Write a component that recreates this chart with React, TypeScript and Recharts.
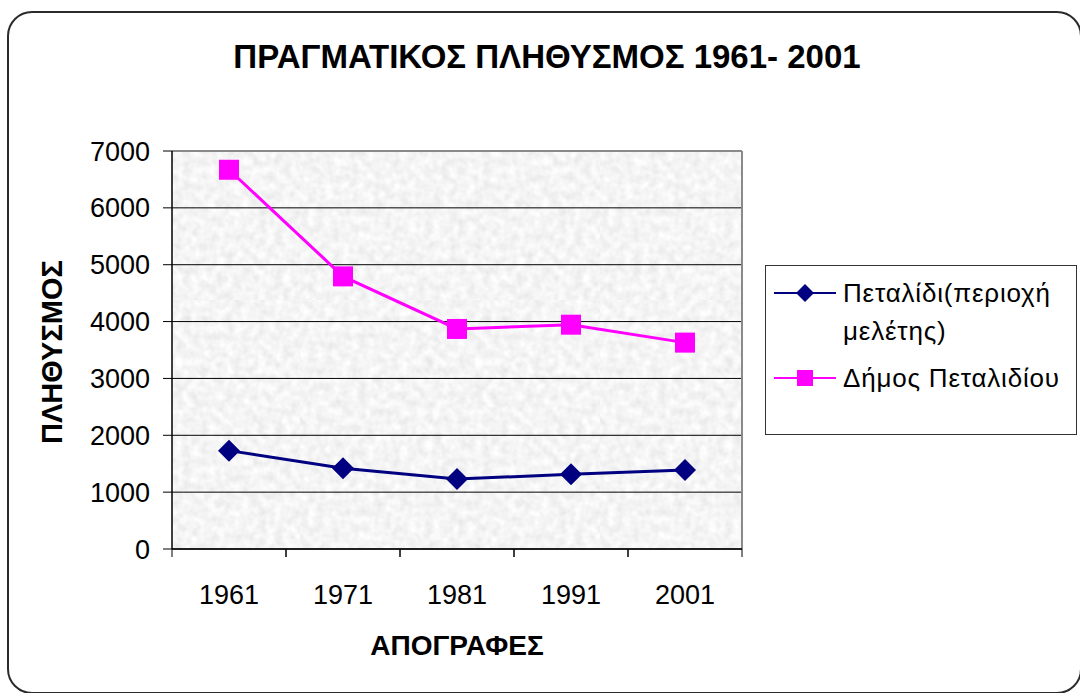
import React from 'react';
import { LineChart, Line, XAxis, YAxis, CartesianGrid, Legend } from 'recharts';

const years = ['1961', '1971', '1981', '1991', '2001'];
const petalidiValues = [1730, 1420, 1230, 1315, 1390];
const dimosValues = [6670, 4795, 3870, 3945, 3630];
const yTicks = [0, 1000, 2000, 3000, 4000, 5000, 6000, 7000];

const seriesKeys = ['petalidi', 'dimos'];
const seriesNames = {
  petalidi: 'Πεταλίδι(περιοχή μελέτης)',
  dimos: 'Δήμος Πεταλιδίου'
};

const BLUE = '#000080';
const PINK = '#FF00FF';
const FONT = '"Liberation Sans", Arial, sans-serif';

const chartData = years.map((year, i) => ({
  year,
  petalidi: petalidiValues[i],
  dimos: dimosValues[i]
}));

const X_TICK_SIZE = 8;
const X_TICK_MARGIN = 28;

const XTick = (props: any) => {
  const { x, y, payload } = props;
  const axisY = y - X_TICK_SIZE - X_TICK_MARGIN;
  const half = payload.offset || 0;
  return (
    <g>
      <line x1={x - half} x2={x - half} y1={axisY} y2={axisY + X_TICK_SIZE} stroke="#000" />
      <line x1={x + half} x2={x + half} y1={axisY} y2={axisY + X_TICK_SIZE} stroke="#000" />
      <text x={x} y={y} dy="0.71em" textAnchor="middle" fontSize={27} fontFamily={FONT} fill="#000">
        {payload.value}
      </text>
    </g>
  );
};

const Diamond = (props: any) => {
  const { cx, cy, r = 11, fill } = props;
  if (cx == null || cy == null) return null;
  return <path d={`M${cx},${cy - r} L${cx + r},${cy} L${cx},${cy + r} L${cx - r},${cy} Z`} fill={fill} />;
};

const Square = (props: any) => {
  const { cx, cy, r = 10, fill } = props;
  if (cx == null || cy == null) return null;
  return <rect x={cx - r} y={cy - r} width={r * 2} height={r * 2} fill={fill} />;
};

const renderLegend = (props: any) => {
  const items = [...(props.payload || [])].sort(
    (a: any, b: any) => seriesKeys.indexOf(a.dataKey) - seriesKeys.indexOf(b.dataKey)
  );
  return (
    <div
      style={{
        width: 312,
        height: 170,
        boxSizing: 'border-box',
        border: '1px solid #333',
        background: '#fff',
        padding: '8px 6px 0 7px',
        fontFamily: FONT,
        fontSize: 26,
        lineHeight: '38px',
        color: '#000'
      }}
    >
      {items.map((entry: any) => (
        <div key={entry.value} style={{ display: 'flex', alignItems: 'flex-start', marginBottom: 9 }}>
          <svg width={70} height={38} style={{ flex: 'none' }}>
            <line x1={1} x2={63} y1={19} y2={19} stroke={entry.color} strokeWidth={2} />
            {entry.dataKey === 'petalidi' ? (
              <Diamond cx={32} cy={19} r={9} fill={entry.color} />
            ) : (
              <Square cx={32} cy={19} r={8} fill={entry.color} />
            )}
          </svg>
          <span style={{ width: 232, letterSpacing: 0.8 }}>{entry.value}</span>
        </div>
      ))}
    </div>
  );
};

const App: React.FC = () => {
  return (
    <div
      style={{
        position: 'absolute',
        left: 0,
        top: 0,
        width: 1080,
        height: 693,
        overflow: 'hidden',
        background: '#fff',
        fontFamily: FONT
      }}
    >
      {/* texture used as plot background */}
      <svg width={0} height={0} style={{ position: 'absolute' }}>
        <defs>
          <filter id="noise" x="0" y="0" width="100%" height="100%">
            <feTurbulence type="fractalNoise" baseFrequency="0.12" numOctaves={2} seed={3} />
            <feColorMatrix
              type="matrix"
              values="0.28 0 0 0 0.77  0.28 0 0 0 0.77  0.28 0 0 0 0.77  0 0 0 0 1"
            />
          </filter>
          <pattern id="tex" patternUnits="userSpaceOnUse" width={300} height={300}>
            <rect width={300} height={300} fill="#e6e6e6" />
            <rect width={300} height={300} filter="url(#noise)" />
          </pattern>
        </defs>
      </svg>

      {/* rounded frame */}
      <div
        style={{
          position: 'absolute',
          left: 7,
          top: 11,
          width: 1075,
          height: 683,
          boxSizing: 'border-box',
          border: '2px solid #2b2b2b',
          borderRadius: 25
        }}
      />

      <div
        style={{
          position: 'absolute',
          left: 0,
          width: 1094,
          top: 37,
          textAlign: 'center',
          fontSize: 33,
          fontWeight: 'bold',
          lineHeight: '40px',
          color: '#000'
        }}
      >
        ΠΡΑΓΜΑΤΙΚΟΣ ΠΛΗΘΥΣΜΟΣ 1961- 2001
      </div>

      <LineChart
        width={1080}
        height={693}
        data={chartData}
        margin={{ top: 151, right: 338, bottom: 0, left: 0 }}
      >
        <CartesianGrid vertical={false} stroke="#000" fill="url(#tex) #e6e6e6" fillOpacity={1} />
        <CartesianGrid
          vertical
          horizontal
          stroke="#8a8a8a"
          strokeWidth={2}
          verticalCoordinatesGenerator={({ offset }: any) => [offset.left + offset.width]}
          horizontalCoordinatesGenerator={({ offset }: any) => [offset.top]}
        />
        <XAxis
          dataKey="year"
          scale="band"
          height={144}
          axisLine={{ stroke: '#000', strokeWidth: 1.5 }}
          tickLine={false}
          tickSize={X_TICK_SIZE}
          tickMargin={X_TICK_MARGIN}
          tick={<XTick />}
          interval={0}
        />
        <YAxis
          width={172}
          domain={[0, 7000]}
          ticks={yTicks}
          interval={0}
          axisLine={{ stroke: '#000', strokeWidth: 1.5 }}
          tickLine={{ stroke: '#000' }}
          tickSize={9}
          tickMargin={13}
          tick={{ fontSize: 27, fontFamily: FONT, fill: '#000' }}
        />
        <Legend
          layout="vertical"
          align="center"
          verticalAlign="middle"
          content={renderLegend}
          wrapperStyle={{ left: 765, top: 265, width: 312, height: 170 }}
        />
        <Line
          type="linear"
          dataKey="petalidi"
          name={seriesNames.petalidi}
          stroke={BLUE}
          strokeWidth={3}
          dot={(p: any) => <Diamond key={`d-${p.index}`} cx={p.cx} cy={p.cy} r={11} fill={BLUE} />}
          activeDot={false}
          isAnimationActive={false}
        />
        <Line
          type="linear"
          dataKey="dimos"
          name={seriesNames.dimos}
          stroke={PINK}
          strokeWidth={3}
          dot={(p: any) => <Square key={`s-${p.index}`} cx={p.cx} cy={p.cy} r={10} fill={PINK} />}
          activeDot={false}
          isAnimationActive={false}
        />
      </LineChart>

      <div
        style={{
          position: 'absolute',
          left: 52,
          top: 352,
          transform: 'translate(-50%, -50%) rotate(-90deg)',
          fontSize: 29,
          fontWeight: 'bold',
          whiteSpace: 'nowrap',
          color: '#000'
        }}
      >
        ΠΛΗΘΥΣΜΟΣ
      </div>

      <div
        style={{
          position: 'absolute',
          left: 457,
          top: 646,
          transform: 'translate(-50%, -50%)',
          fontSize: 28,
          fontWeight: 'bold',
          whiteSpace: 'nowrap',
          color: '#000'
        }}
      >
        ΑΠΟΓΡΑΦΕΣ
      </div>
    </div>
  );
};

export default App;
